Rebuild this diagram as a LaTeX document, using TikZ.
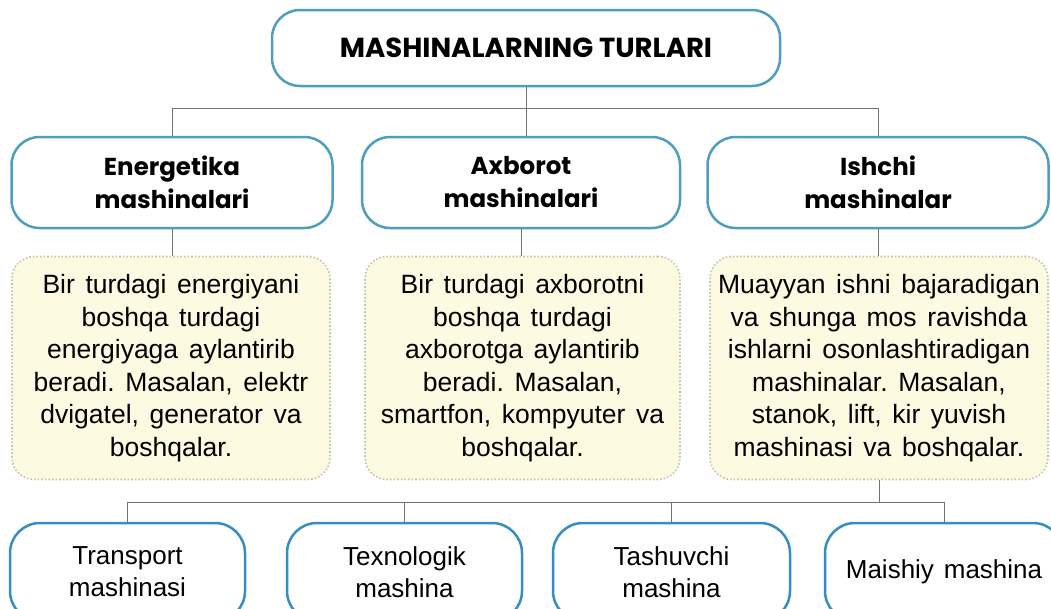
\documentclass[tikz,border=0pt]{standalone}
\usepackage{fontspec}
\setmainfont{Liberation Sans}
\newfontfamily\headfont{Poppins}[Ligatures=CommonOff]
\usetikzlibrary{positioning}
\definecolor{boxblue}{RGB}{78,158,190}
\definecolor{kindblue}{RGB}{52,142,196}
\definecolor{noteyellow}{RGB}{253,250,226}
\definecolor{notedot}{RGB}{196,196,170}
\definecolor{linkgray}{RGB}{105,118,124}
\frenchspacing
\newcommand\notetext{\fontsize{26.5}{32.5}\selectfont\spaceskip=0.4em plus 0.1em\relax}
\newcommand\kindtext{\fontsize{26}{32}\selectfont\spaceskip=0.38em\relax}

\begin{document}
\begin{tikzpicture}[x=1pt,y=-1pt,
  catbox/.style={draw=boxblue, line width=2.5pt, rounded corners=28pt, fill=white, inner sep=0pt, align=center, font=\headfont\bfseries\fontsize{24.5}{33}\selectfont},
  notebox/.style={draw=notedot, dotted, line width=1.6pt, rounded corners=22pt, fill=noteyellow, inner sep=0pt, align=center, font=\notetext},
  kindbox/.style={draw=kindblue, line width=2.5pt, rounded corners=30pt, fill=white, inner sep=0pt, align=center, font=\kindtext},
  link/.style={draw=linkgray, line width=1pt}]
\useasboundingbox (0,0) rectangle (1051,608);
\clip (0,0) rectangle (1051,608);
% Title
\node[catbox, minimum width=508pt, minimum height=76pt, font=\headfont\bfseries\fontsize{27.5}{33}\selectfont] (top) at (526,48) {MASHINALARNING TURLARI};
% Three kinds of machines
\foreach \n/\cx/\w/\t in {ene/172/321/{Energetika\\mashinalari},axb/521/318/{Axborot\\mashinalari},ish/878/341/{Ishchi\\mashinalar}} {
  \node[catbox, minimum width=\w*1pt, minimum height=91pt] (\n) at (\cx,182.5) {\t};
}
% Notes under each kind
\node[notebox, minimum width=318pt, minimum height=223pt] (eneNote) at (171,368)
  {Bir turdagi energiyani\\boshqa turdagi\\energiyaga aylantirib\\beradi. Masalan, elektr\\dvigatel, generator va\\boshqalar.};
\node[notebox, minimum width=315pt, minimum height=223pt] (axbNote) at (522.5,368)
  {Bir turdagi axborotni\\boshqa turdagi\\axborotga aylantirib\\beradi. Masalan,\\smartfon, kompyuter va\\boshqalar.};
\node[notebox, minimum width=338pt, minimum height=223pt] (ishNote) at (879,368)
  {Muayyan ishni bajaradigan\\va shunga mos ravishda\\ishlarni osonlashtiradigan\\mashinalar. Masalan,\\stanok, lift, kir yuvish\\mashinasi va boshqalar.};
% Working machines
\foreach \n/\cx/\w/\t in {tr/127.5/235/{Transport\\mashinasi},tx/404.5/235/{Texnologik\\mashina},ta/671.5/237/{Tashuvchi\\mashina},ma/944/238/{Maishiy mashina}} {
  \node[kindbox, minimum width=\w*1pt, minimum height=98pt] (\n) at (\cx,572) {\t};
}
% Connectors
\draw[link] (top.south) -- (top.south |- axb.north);
\draw[link] (ene.north) -- ++(0,-27) -| (ish.north);
\foreach \n in {ene,axb,ish} {
  \draw[link] (\n.south) -- (\n.south |- \n Note.north);
}
\coordinate (hub) at ([yshift=-22pt]ishNote.south);
\draw[link] (ishNote.south) -- (hub);
\draw[link] (tr.north) |- (hub) -| (ma.north);
\draw[link] (tx.north) -- (tx.north |- hub);
\draw[link] (ta.north) -- (ta.north |- hub);
\end{tikzpicture}
\end{document}
